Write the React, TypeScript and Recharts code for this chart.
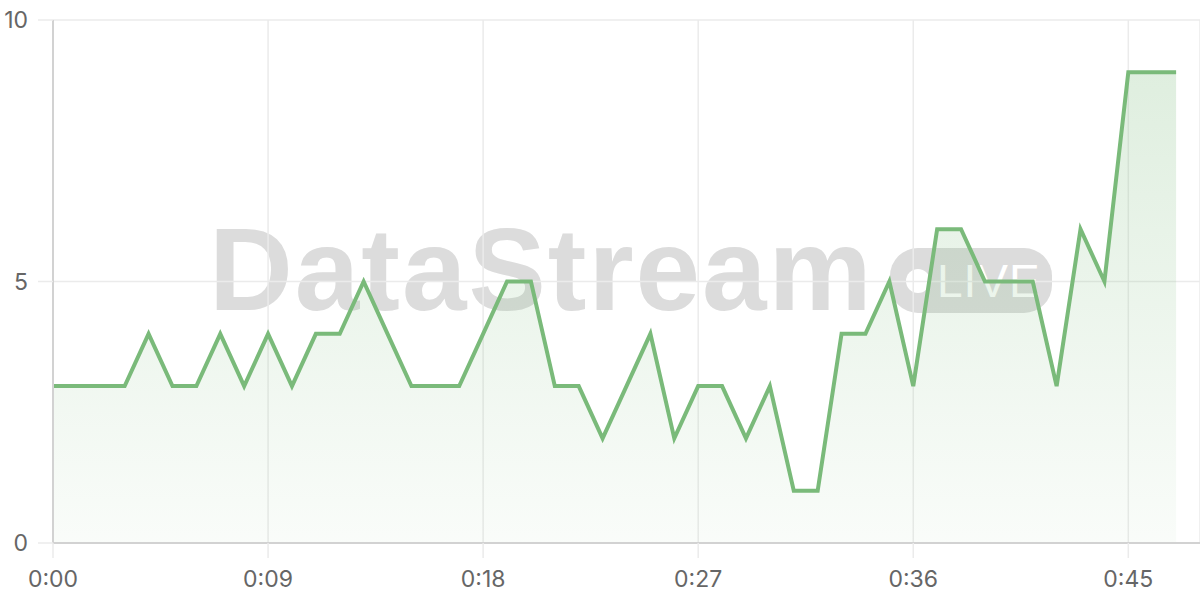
import React from "react";
import { AreaChart, Area, XAxis, YAxis, CartesianGrid } from "recharts";

const seconds = [
  0, 1, 2, 3, 4, 5, 6, 7, 8, 9, 10, 11, 12, 13, 14, 15, 16, 17, 18, 19, 20, 21, 22, 23,
  24, 25, 26, 27, 28, 29, 30, 31, 32, 33, 34, 35, 36, 37, 38, 39, 40, 41, 42, 43, 44, 45, 46, 47,
];
const values = [
  3, 3, 3, 3, 4, 3, 3, 4, 3, 4, 3, 4, 4, 5, 4, 3, 3, 3, 4, 5, 5, 3, 3, 2,
  3, 4, 2, 3, 3, 2, 3, 1, 1, 4, 4, 5, 3, 6, 6, 5, 5, 5, 3, 6, 5, 9, 9, 9,
];
const xTicks = [0, 9, 18, 27, 36, 45];
const xTickLabels = ["0:00", "0:09", "0:18", "0:27", "0:36", "0:45"];
const yTicks = [0, 5, 10];

const data = seconds.map((t, i) => ({ t, v: values[i] }));

const tickStyle = { fill: "#666", fontSize: 23, fontFamily: "Inter, 'Liberation Sans', sans-serif" };

export default function App() {
  return (
    <div style={{ position: "absolute", left: 0, top: 0, width: 1200, height: 600, background: "#fff" }}>
      <div
        style={{
          position: "absolute",
          left: 0,
          top: 0,
          width: 1200,
          height: 600,
          pointerEvents: "none",
        }}
      >
        <div
          style={{
            position: "absolute",
            left: 209,
            top: 205,
            fontFamily: "'Liberation Sans', Arial, sans-serif",
            fontWeight: 700,
            fontSize: 116,
            lineHeight: "130px",
            letterSpacing: 2,
            color: "#dcdcdc",
            whiteSpace: "nowrap",
          }}
        >
          DataStream
        </div>
        <div
          style={{
            position: "absolute",
            left: 890,
            top: 248,
            width: 162,
            height: 65,
            borderRadius: 28,
            background: "#dcdcdc",
          }}
        >
          <div
            style={{
              position: "absolute",
              left: 16,
              top: 21,
              width: 24,
              height: 24,
              borderRadius: 12,
              background: "#fff",
            }}
          />
          <div
            style={{
              position: "absolute",
              left: 47,
              top: 8,
              fontFamily: "'Liberation Sans', Arial, sans-serif",
              fontSize: 46,
              lineHeight: "50px",
              color: "#fff",
              letterSpacing: 1,
            }}
          >
            LIVE
          </div>
        </div>
      </div>
      <div style={{ position: "absolute", left: 0, top: 0 }}>
        <AreaChart width={1200} height={600} data={data} margin={{ top: 20, right: 0, left: 0, bottom: 0 }}>
          <defs>
            <linearGradient id="greenFill" x1="0" y1="0" x2="0" y2="1">
              <stop offset="0%" stopColor="#7aba7a" stopOpacity={0.4} />
              <stop offset="100%" stopColor="#7aba7a" stopOpacity={0.07} />
            </linearGradient>
          </defs>
          <CartesianGrid stroke="#ebebeb" strokeWidth={1.5} />
          <XAxis
            dataKey="t"
            type="number"
            domain={[0, 48]}
            ticks={xTicks}
            tickFormatter={(v: number) => xTickLabels[xTicks.indexOf(v)]}
            height={57}
            tickSize={15}
            tickMargin={13}
            tickLine={{ stroke: "#ebebeb", strokeWidth: 1.5 }}
            axisLine={{ stroke: "#d2d2d2", strokeWidth: 2 }}
            tick={tickStyle}
            interval={0}
          />
          <YAxis
            type="number"
            domain={[0, 10]}
            ticks={yTicks}
            width={53}
            tickSize={15}
            tickMargin={10}
            tickLine={{ stroke: "#ebebeb", strokeWidth: 1.5 }}
            axisLine={{ stroke: "#d2d2d2", strokeWidth: 2 }}
            tick={tickStyle}
            interval={0}
          />
          <Area
            type="linear"
            dataKey="v"
            stroke="#7aba7a"
            strokeWidth={4}
            fill="url(#greenFill)"
            dot={false}
            activeDot={false}
            isAnimationActive={false}
          />
        </AreaChart>
      </div>
    </div>
  );
}
